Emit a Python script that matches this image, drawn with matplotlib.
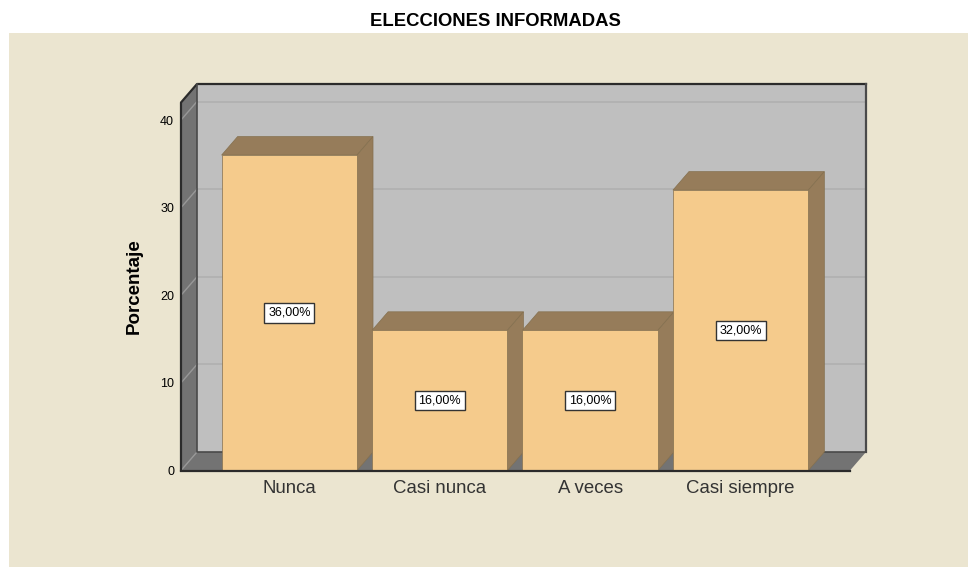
"""Pseudo-3D bar chart of the ELECCIONES INFORMADAS percentages."""
import matplotlib
matplotlib.use('Agg')
import matplotlib.pyplot as plt
from matplotlib.patches import Rectangle

categories = ['Nunca', 'Casi nunca', 'A veces', 'Casi siempre']
percentages = [36, 16, 16, 32]
bar_labels = ['36,00%', '16,00%', '16,00%', '32,00%']
y_ticks = [0, 10, 20, 30, 40]

PANEL = '#ebe5d0'
WALL = '#bfbfbf'
SIDE = '#737373'
BAR = '#f5cb8c'
BAR_DARK = '#967c5a'
GRID = '#b0b0b0'
GRID_SIDE = '#989898'
LINE = '#2b2b2b'

WIDTH, HEIGHT = 968, 567
LEFT, RIGHT, TOP, BOTTOM = 181, 850, 102.5, 470.5

plt.rcParams['font.family'] = ['Liberation Sans', 'DejaVu Sans']

fig = plt.figure(figsize=(WIDTH / 100, HEIGHT / 100), dpi=100, facecolor='white')
fig.patches.append(Rectangle((9 / WIDTH, 0), (WIDTH - 9) / WIDTH, (HEIGHT - 33) / HEIGHT,
                             transform=fig.transFigure, facecolor=PANEL, edgecolor='none',
                             zorder=-1))
ax = fig.add_axes([LEFT / WIDTH, 1 - BOTTOM / HEIGHT,
                   (RIGHT - LEFT) / WIDTH, (BOTTOM - TOP) / HEIGHT])
ax.patch.set_visible(False)

x_min, x_max = -0.72, 3.727
y_min, y_max = 0, 42
ax.set_xlim(x_min, x_max)
ax.set_ylim(y_min, y_max)

# depth of the fake 3D box, in data units
dx = 16 * (x_max - x_min) / (RIGHT - LEFT)
dy = 18.5 * (y_max - y_min) / (BOTTOM - TOP)
bar_width = 0.9

# back wall, left wall and floor
ax.fill([x_min + dx, x_max + dx, x_max + dx, x_min + dx],
        [dy, dy, y_max + dy, y_max + dy], color=WALL, lw=0, clip_on=False, zorder=1)
ax.fill([x_min, x_min + dx, x_min + dx, x_min],
        [y_min, dy, y_max + dy, y_max], color=SIDE, lw=0, clip_on=False, zorder=1)
ax.fill([x_min, x_max, x_max + dx, x_min + dx],
        [y_min, y_min, dy, dy], color=SIDE, lw=0, clip_on=False, zorder=1)

# gridlines run along the back wall and fold down the left wall
for tick in y_ticks[1:]:
    ax.plot([x_min + dx, x_max + dx], [tick + dy, tick + dy],
            color=GRID, lw=1.2, clip_on=False, zorder=2)
    ax.plot([x_min, x_min + dx], [tick, tick + dy],
            color=GRID_SIDE, lw=1, clip_on=False, zorder=2)
ax.plot([x_min, x_min + dx], [0, dy], color=GRID_SIDE, lw=1, clip_on=False, zorder=2)

# box outline
ax.plot([x_min, x_min, x_min + dx, x_max + dx],
        [y_min, y_max, y_max + dy, y_max + dy], color=LINE, lw=1.6, clip_on=False, zorder=2)
ax.plot([x_max + dx, x_max + dx], [y_max + dy, dy], color='#4a4a4a', lw=1.6,
        clip_on=False, zorder=2)
ax.plot([x_min + dx, x_min + dx, x_max + dx], [y_max + dy, dy, dy],
        color='#4a4a4a', lw=1.2, clip_on=False, zorder=2)

for i, value in enumerate(percentages):
    x0, x1 = i - bar_width / 2, i + bar_width / 2
    # top face, right face, then the front
    ax.fill([x0, x1, x1 + dx, x0 + dx], [value, value, value + dy, value + dy],
            facecolor=BAR_DARK, edgecolor='#84704f', lw=0.5, zorder=3)
    ax.fill([x1, x1 + dx, x1 + dx, x1], [0, dy, value + dy, value],
            facecolor=BAR_DARK, edgecolor='#84704f', lw=0.5, zorder=3)
    ax.bar(i, value, width=bar_width, color=BAR, edgecolor='#84704f', lw=0.5, zorder=4)
    ax.text(i, value / 2, bar_labels[i], ha='center', va='center', fontsize=9,
            color='black', zorder=6,
            bbox=dict(boxstyle='square,pad=0.3', facecolor='white', edgecolor='#333333', lw=1))

for spine in ['top', 'right', 'left']:
    ax.spines[spine].set_visible(False)
ax.spines['bottom'].set_color(LINE)
ax.spines['bottom'].set_linewidth(1.6)
ax.spines['bottom'].set_zorder(5)

ax.set_xticks(range(len(categories)))
ax.set_xticklabels(categories, fontsize=13.4, color='#333333')
ax.set_yticks(y_ticks)
ax.set_yticklabels([str(t) for t in y_ticks], fontsize=9, color='black')
ax.tick_params(axis='x', length=0, pad=7)
ax.tick_params(axis='y', length=0, pad=5)

fig.text(134 / WIDTH, 1 - 286.5 / HEIGHT, 'Porcentaje', rotation=90, ha='center', va='center',
         fontsize=13.5, fontweight='bold', color='black')
fig.text(495.5 / WIDTH, 1 - 21 / HEIGHT, 'ELECCIONES INFORMADAS', ha='center', va='center',
         fontsize=13.3, fontweight='bold', color='black')

fig.savefig('out.png', dpi=100)
